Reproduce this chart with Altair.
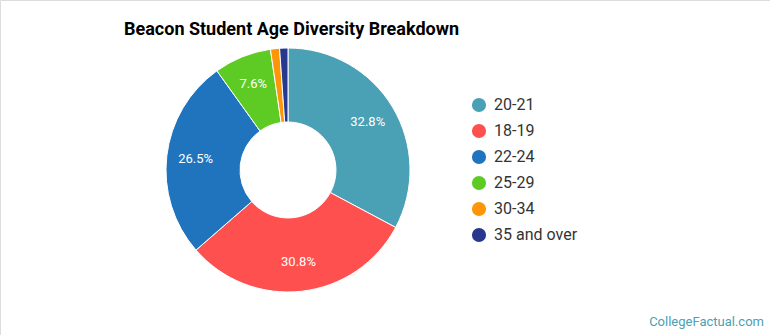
import altair as alt
import pandas as pd

categories = ["20-21", "18-19", "22-24", "25-29", "30-34", "35 and over"]
shares = [32.8, 30.8, 26.5, 7.6, 1.2, 1.1]
colors = ["#4AA0B4", "#FF5050", "#1F74BD", "#5ECB25", "#FF9508", "#28388E"]
title_text = "Beacon Student Age Diversity Breakdown"
credit_text = "CollegeFactual.com"

df = pd.DataFrame({
    "cat": categories,
    "share": shares,
    "order": list(range(len(categories))),
    "label": [f"{v:.1f}%" if v >= 5 else "" for v in shares],
})

CX, CY = 288, 170

theta = alt.Theta("share:Q", stack=True, scale=alt.Scale(domain=[0, 100]))
color = alt.Color(
    "cat:N",
    scale=alt.Scale(domain=categories, range=colors),
    sort=categories,
    legend=alt.Legend(
        title=None,
        orient="none",
        legendX=471,
        legendY=97,
        symbolType="circle",
        symbolSize=200,
        symbolStrokeWidth=0,
        labelFontSize=16,
        labelFont="Roboto",
        labelColor="#333333",
        labelOffset=7,
        rowPadding=10,
    ),
)

arcs = alt.Chart(df).mark_arc(
    innerRadius=48, outerRadius=122, stroke="white", strokeWidth=1
).encode(
    theta=theta,
    color=color,
    order=alt.Order("order:Q"),
    x=alt.value(CX),
    y=alt.value(CY),
)

labels = alt.Chart(df).mark_text(
    radius=93, fontSize=13, font="Roboto", color="white"
).encode(
    theta=theta,
    order=alt.Order("order:Q"),
    text="label:N",
    x=alt.value(CX),
    y=alt.value(CY),
)

title = alt.Chart(pd.DataFrame({"t": [title_text]})).mark_text(
    align="left", baseline="alphabetic", fontSize=18, fontWeight="bold",
    font="Roboto", color="#000000"
).encode(text="t:N", x=alt.value(124), y=alt.value(35))

credit = alt.Chart(pd.DataFrame({"t": [credit_text]})).mark_text(
    align="right", baseline="alphabetic", fontSize=13,
    font="Roboto", color="#4A9FB5"
).encode(text="t:N", x=alt.value(764), y=alt.value(326))

chart = alt.layer(arcs, labels, title, credit).properties(
    width=770, height=335, autosize="none", padding=0
).configure_view(stroke=None).configure(background="white")

chart.save("out.html", embed_options={"renderer": "svg", "actions": False})
